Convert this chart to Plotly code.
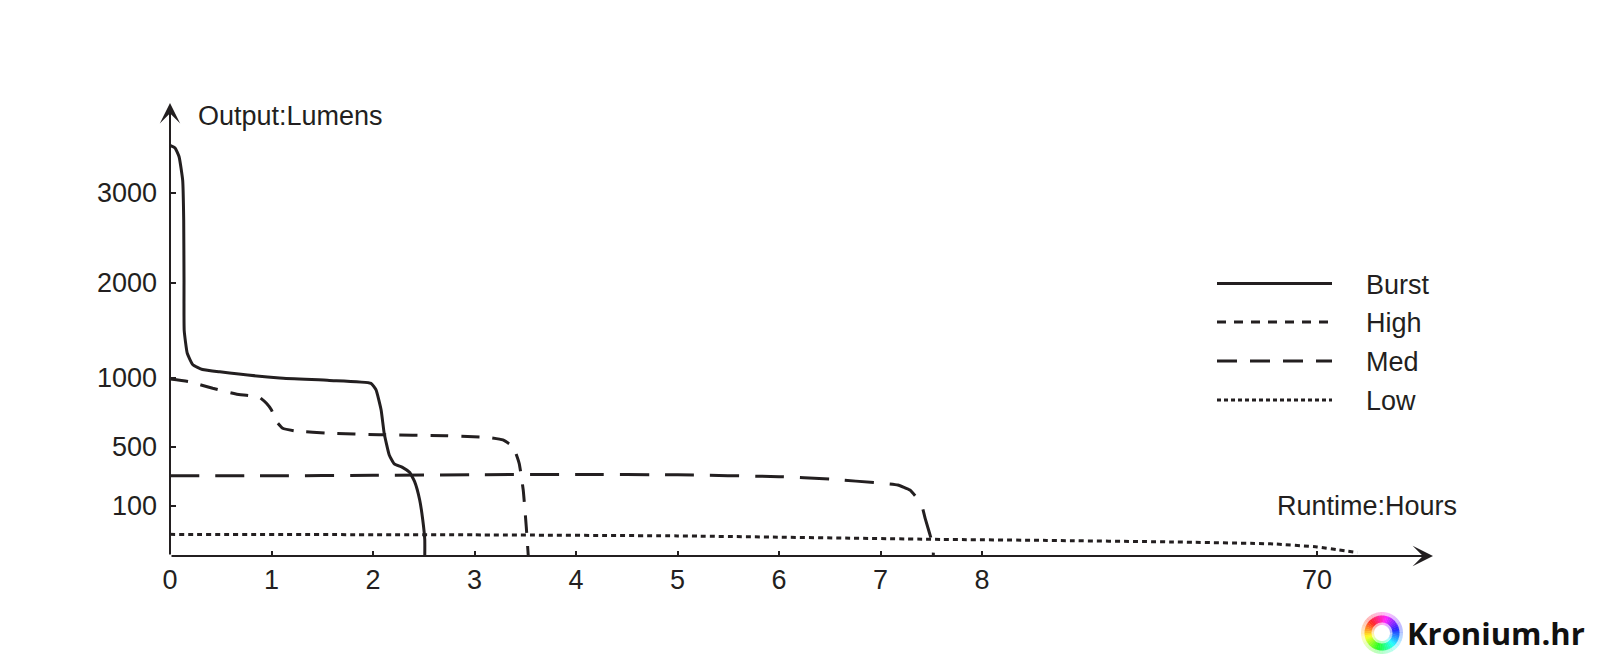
import numpy as np
import colorsys
import plotly.graph_objects as go

# ---------------- data (hours, lumens) ----------------
burst_hours = [0, 0.05, 0.09, 0.125, 0.135, 0.138, 0.14, 0.17, 0.225, 0.32, 0.49, 1.08, 1.57,
               1.98, 2.03, 2.08, 2.11, 2.16, 2.21, 2.29, 2.36, 2.41, 2.46, 2.49, 2.51, 2.51]
burst_lumens = [3530, 3500, 3400, 3140, 2700, 2030, 1500, 1260, 1140, 1090, 1065, 1000, 982,
                961, 913, 767, 598, 444, 383, 360, 326, 263, 139, 72, 32, 0]

high_hours = [0, 0.19, 0.42, 0.65, 0.88, 0.95, 1.0, 1.05, 1.11, 1.24, 1.57, 2.06, 2.72,
              3.15, 3.28, 3.38, 3.44, 3.48, 3.51, 3.53]
high_lumens = [993, 973, 925, 884, 860, 816, 767, 682, 634, 614, 598, 587, 580,
               566, 549, 500, 387, 206, 58, 0]

med_hours = [0, 1, 2, 3, 4, 5, 6, 6.5, 7.02, 7.17, 7.29, 7.40, 7.44, 7.52, 7.52]
med_lumens = [303, 303, 306, 310, 312, 309, 297, 280, 252, 240, 206, 116, 75, 18, 0]

low_hours = [0, 3, 5, 7.6, 20, 43, 62, 70, 74, 77.5]
low_lumens = [43, 42, 40, 33, 31, 28, 24, 18, 12, 7]

x_tick_hours = [0, 1, 2, 3, 4, 5, 6, 7, 8, 70]
x_tick_labels = ["0", "1", "2", "3", "4", "5", "6", "7", "8", "70"]
y_tick_lumens = [100, 500, 1000, 2000, 3000]
y_tick_labels = ["100", "500", "1000", "2000", "3000"]

series_names = ["Burst", "High", "Med", "Low"]

# ---------------- broken-axis scales ----------------
PX_PER_HOUR = 101.5
SEG_8_70 = 335.0  # pixel span between 8 and 70 ticks


def xmap(h):
    h = np.asarray(h, dtype=float)
    return np.where(h <= 8, h, 8 + (h - 8) * (SEG_8_70 / 62.0) / PX_PER_HOUR)


Y_KNOTS = [0, 100, 500, 1000, 2000, 3000]
Y_DISP = [0, 50.3, 109.3, 178, 273, 363]


def ymap(v):
    v = np.asarray(v, dtype=float)
    base = np.interp(v, Y_KNOTS, Y_DISP)
    return np.where(v > 3000, 363 + (v - 3000) * 0.09, base)


INK = "#231f20"
FONT = "Liberation Sans, Arial, sans-serif"
FS = 27

# plot area geometry (px)
L, R, T, B = 170, 160, 95, 107
W, H = 1600, 663
PW, PH = W - L - R, H - T - B
X_RANGE = [0, PW / PX_PER_HOUR]
Y_RANGE = [0, PH]


def pxx(px):
    return (px - L) / PW


def pxy(py):
    return (H - B - py) / PH


fig = go.Figure()

styles = {
    "Burst": "solid",
    "High": "18px,13px",
    "Med": "29px,16px",
    "Low": "5px,4px",
}
data = {
    "Burst": (burst_hours, burst_lumens),
    "High": (high_hours, high_lumens),
    "Med": (med_hours, med_lumens),
    "Low": (low_hours, low_lumens),
}
for name in series_names:
    hx, ly = data[name]
    fig.add_trace(go.Scatter(
        x=xmap(hx), y=ymap(ly), mode="lines", name=name,
        line=dict(color=INK, width=3, dash=styles[name], shape="spline", smoothing=0.4),
        showlegend=False, hoverinfo="skip", cliponaxis=False,
    ))

annotations = []
# axis arrows
annotations.append(dict(x=(1433 - L) / PX_PER_HOUR, y=0, ax=0, ay=0, xref="x", yref="y",
                        axref="x", ayref="y", text="", showarrow=True, arrowhead=3,
                        arrowsize=1.7, arrowwidth=2, arrowcolor=INK, standoff=0))
annotations.append(dict(x=0, y=H - B - 103, ax=0, ay=0, xref="x", yref="y",
                        axref="x", ayref="y", text="", showarrow=True, arrowhead=3,
                        arrowsize=1.7, arrowwidth=2, arrowcolor=INK, standoff=0))
# axis titles
annotations.append(dict(x=pxx(196), y=pxy(116), xref="paper", yref="paper", text="Output:Lumens",
                        showarrow=False, xanchor="left", yanchor="middle",
                        font=dict(family=FONT, size=FS, color=INK)))
annotations.append(dict(x=pxx(1275), y=pxy(506), xref="paper", yref="paper", text="Runtime:Hours",
                        showarrow=False, xanchor="left", yanchor="middle",
                        font=dict(family=FONT, size=FS, color=INK)))

shapes = []
# manual legend
legend_dash = {"Burst": "solid", "High": "9px,8px", "Med": "20px,13px", "Low": "4px,3px"}
legend_rows = [283.5, 322, 361, 400]
for name, ry in zip(series_names, legend_rows):
    shapes.append(dict(type="line", xref="paper", yref="paper",
                       x0=pxx(1217), x1=pxx(1332), y0=pxy(ry), y1=pxy(ry),
                       line=dict(color=INK, width=3, dash=legend_dash[name])))
    annotations.append(dict(x=pxx(1364), y=pxy(ry + 1), xref="paper", yref="paper", text=name,
                            showarrow=False, xanchor="left", yanchor="middle",
                            font=dict(family=FONT, size=FS, color=INK)))

# Kronium.hr logo ring
cx, cy = pxx(1382), pxy(633)
nseg = 48
for i in range(nseg):
    a0 = 2 * np.pi * i / nseg
    a1 = 2 * np.pi * (i + 1.15) / nseg
    angs = np.linspace(a0, a1, 5)
    hue = ((np.degrees((a0 + a1) / 2) - 135) % 360) / 360.0
    r_, g_, b_ = colorsys.hsv_to_rgb(hue, 0.85, 1.0)
    col = f"rgb({int(r_*255)},{int(g_*255)},{int(b_*255)})"
    for rad, wid, op in ((14.5, 13, 0.3), (14, 7, 1.0)):
        pts = [(rad * np.cos(a), rad * np.sin(a)) for a in angs]
        path = "M" + " L".join(f"{p[0]:.2f},{p[1]:.2f}" for p in pts)
        shapes.append(dict(type="path", xref="paper", yref="paper", xsizemode="pixel",
                           ysizemode="pixel", xanchor=cx, yanchor=cy, path=path,
                           line=dict(color=col, width=wid), opacity=op, layer="above"))

annotations.append(dict(x=pxx(1405), y=pxy(633), xref="paper", yref="paper", text="<b>Kronium.hr</b>",
                        showarrow=False, xanchor="left", yanchor="middle",
                        font=dict(family="Open Sans, sans-serif", size=31, color="#111111")))

fig.update_layout(
    width=W, height=H,
    margin=dict(l=L, r=R, t=T, b=B, pad=0),
    paper_bgcolor="white", plot_bgcolor="white",
    showlegend=False,
    annotations=annotations, shapes=shapes,
    xaxis=dict(range=X_RANGE, tickmode="array", tickvals=xmap(x_tick_hours), ticktext=x_tick_labels,
               ticks="inside", ticklen=5, tickwidth=1.5, tickcolor=INK, showgrid=False,
               zeroline=False, showline=False, ticklabelstandoff=5,
               tickfont=dict(family=FONT, size=FS, color=INK), fixedrange=True),
    yaxis=dict(range=Y_RANGE, tickmode="array", tickvals=ymap(y_tick_lumens), ticktext=y_tick_labels,
               ticks="inside", ticklen=6, tickwidth=1.5, tickcolor=INK, showgrid=False,
               zeroline=False, showline=False, ticklabelstandoff=12,
               tickfont=dict(family=FONT, size=FS, color=INK), fixedrange=True),
)

fig.write_html("out.html", config={"displayModeBar": False},
               post_script="document.body.style.margin='0px';")
